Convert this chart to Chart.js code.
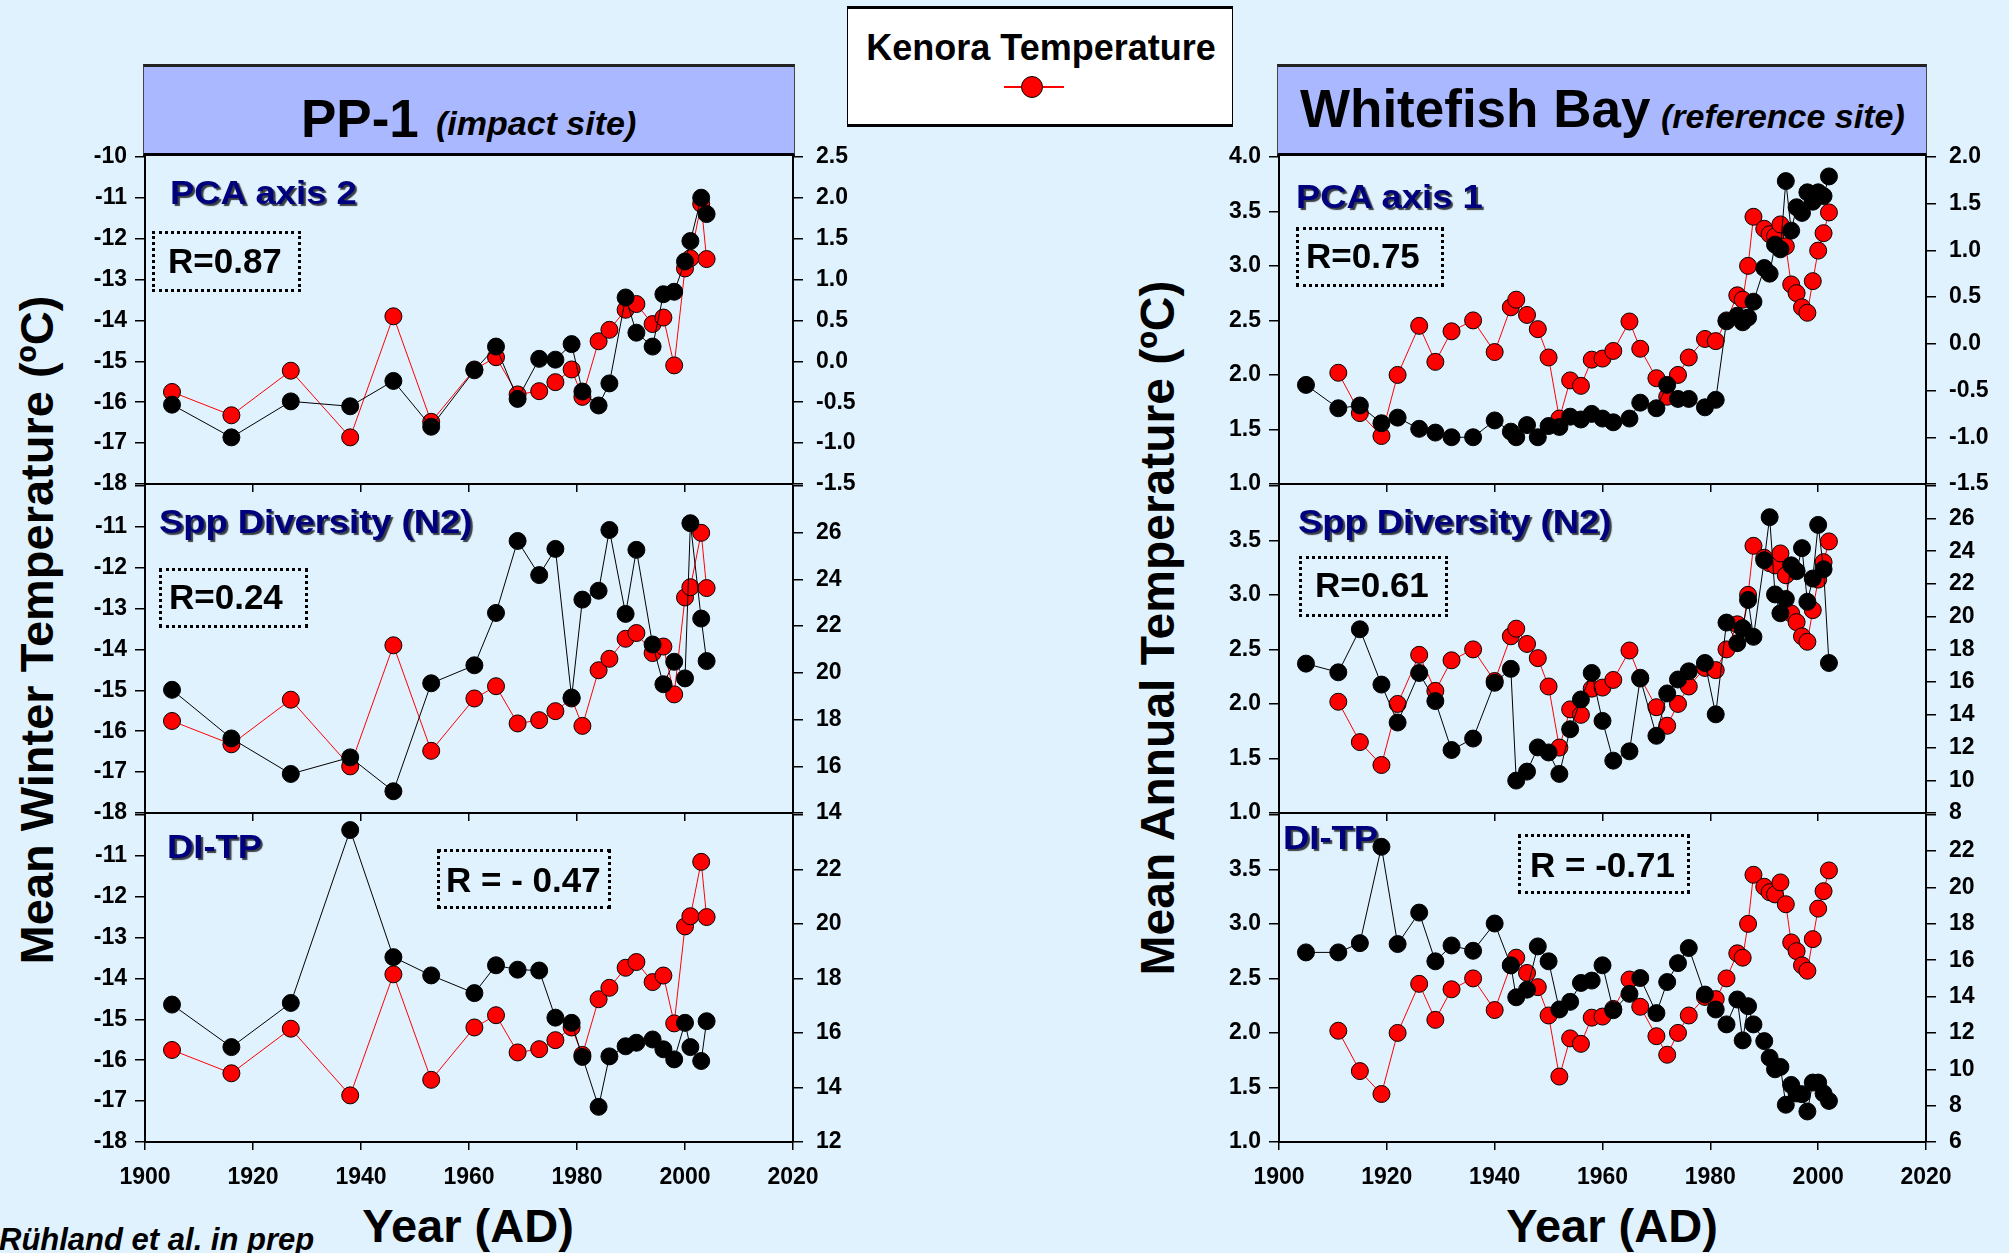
<!DOCTYPE html>
<html>
<head>
<meta charset="utf-8">
<title>Kenora temperature vs. diatom proxies</title>
<script src="https://cdn.jsdelivr.net/npm/chart.js@4.4.1/dist/chart.umd.min.js"></script>
<style>
  html, body { margin: 0; padding: 0; background: #e0f2fe; }
  #page {
    position: relative; width: 2009px; height: 1253px; overflow: hidden;
    background: #e0f2fe; font-family: "Liberation Sans", Arial, sans-serif; color: #000;
  }
  .t { position: absolute; white-space: nowrap; line-height: 1; font-weight: bold; }
  .titlebox {
    position: absolute; box-sizing: border-box; background: #aab9ff;
    border-left: 1px solid #444; border-right: 1px solid #444;
    border-top: 3px solid #222; border-bottom: 3px solid #000;
  }
  .legendbox {
    position: absolute; box-sizing: border-box; background: #fff;
    border-left: 1.5px solid #000; border-right: 1.5px solid #000;
    border-top: 3px solid #000; border-bottom: 3px solid #000;
  }
  .rbox { position: absolute; box-sizing: border-box; border: 3px dotted #000; }
  .panel-label { color: #00007f; text-shadow: 2px 2px 1px rgba(0,0,0,0.75); }
  canvas { position: absolute; }
</style>
</head>
<body>
<div id="page"></div>
<script>
// ---------- PP-1 (impact site): Kenora winter temperature and proxies ----------
const ppYears = [1905, 1916, 1927, 1938, 1946, 1953, 1961, 1965, 1969, 1973, 1976, 1979,
                 1981, 1984, 1986, 1989, 1991, 1994, 1996, 1998, 2000, 2001, 2003, 2004];
const winterTemp = [-15.75, -16.32, -15.23, -16.86, -13.90, -16.48, -15.20, -14.90, -15.81, -15.73, -15.51, -15.20,
                    -15.87, -14.51, -14.23, -13.74, -13.60, -14.09, -13.93, -15.10, -12.73, -12.48, -11.15, -12.50];
const ppPca2 = [-0.53, -0.93, -0.49, -0.55, -0.24, -0.80, -0.11, 0.18, -0.46, 0.03, 0.02, 0.21,
                -0.37, -0.54, -0.27, 0.78, 0.35, 0.18, 0.82, 0.85, 1.22, 1.47, 2.00, 1.80];
const ppN2 = [19.27, 17.19, 15.67, 16.38, 14.93, 19.55, 20.32, 22.56, 25.64, 24.18, 25.30, 18.94,
              23.13, 23.51, 26.11, 22.52, 25.26, 21.21, 19.51, 20.47, 19.76, 26.40, 22.32, 20.50];
const ppDiTp = [17.04, 15.48, 17.10, 23.44, 18.78, 18.11, 17.46, 18.48, 18.32, 18.29, 16.56, 16.37,
                15.12, 13.29, 15.14, 15.51, 15.64, 15.76, 15.40, 15.03, 16.37, 15.48, 14.97, 16.43];

// ---------- Whitefish Bay (reference site): Kenora annual temperature and proxies ----------
const wbTempYears = [1911, 1915, 1919, 1922, 1926, 1929, 1932, 1936, 1940, 1943, 1944, 1946,
                     1948, 1950, 1952, 1954, 1956, 1958, 1960, 1962, 1965, 1967, 1970, 1972,
                     1974, 1976, 1979, 1981, 1983, 1985, 1986, 1987, 1988, 1990, 1991, 1992,
                     1993, 1994, 1995, 1996, 1997, 1998, 1999, 2000, 2001, 2002];
const annualTemp = [2.02, 1.65, 1.44, 2.00, 2.45, 2.12, 2.40, 2.50, 2.21, 2.62, 2.69, 2.55,
                    2.42, 2.16, 1.60, 1.95, 1.90, 2.14, 2.15, 2.22, 2.49, 2.24, 1.97, 1.80,
                    2.00, 2.16, 2.33, 2.31, 2.50, 2.73, 2.69, 3.00, 3.45, 3.34, 3.29, 3.27,
                    3.38, 3.18, 2.83, 2.75, 2.62, 2.57, 2.86, 3.14, 3.30, 3.49];
const wbCoreYears = [1905, 1911, 1915, 1919, 1922, 1926, 1929, 1932, 1936, 1940, 1943, 1944,
                     1946, 1948, 1950, 1952, 1954, 1956, 1958, 1960, 1962, 1965, 1967, 1970,
                     1972, 1974, 1976, 1979, 1981, 1983, 1985, 1986, 1987, 1988, 1990, 1991,
                     1992, 1993, 1994, 1995, 1996, 1997, 1998, 1999, 2000, 2001, 2002];
const wbPca1 = [-0.44, -0.69, -0.66, -0.85, -0.79, -0.91, -0.95, -1.00, -1.00, -0.82, -0.94, -1.00,
                -0.87, -1.00, -0.88, -0.89, -0.78, -0.81, -0.75, -0.80, -0.84, -0.80, -0.63, -0.69,
                -0.44, -0.59, -0.59, -0.68, -0.60, 0.24, 0.30, 0.23, 0.28, 0.45, 0.81, 0.75,
                1.06, 1.01, 1.74, 1.21, 1.46, 1.40, 1.62, 1.52, 1.62, 1.58, 1.79];
const wbN2 = [17.13, 16.60, 19.23, 15.85, 13.53, 16.56, 14.84, 11.85, 12.55, 15.96, 16.81, 9.98,
              10.53, 12.01, 11.70, 10.39, 13.12, 14.94, 16.56, 13.63, 11.20, 11.77, 16.22, 12.72,
              15.31, 16.16, 16.66, 17.17, 14.03, 19.64, 18.38, 19.30, 21.02, 18.77, 23.45, 26.08,
              21.36, 20.21, 21.08, 23.14, 22.78, 24.19, 20.91, 22.33, 25.61, 22.90, 17.17];
const wbDiTp = [16.43, 16.43, 16.94, 22.24, 16.89, 18.62, 15.94, 16.81, 16.52, 18.02, 15.72, 13.96,
                14.38, 16.76, 15.94, 13.29, 13.71, 14.75, 14.88, 15.72, 13.25, 14.15, 15.02, 13.09,
                14.80, 15.84, 16.67, 14.11, 13.29, 12.47, 13.84, 11.59, 13.47, 12.47, 11.55, 10.64,
                10.00, 10.13, 8.05, 9.14, 8.67, 8.63, 7.68, 9.27, 9.27, 8.67, 8.26];

// ---------- tick values ----------
const yearTicks = [1900, 1920, 1940, 1960, 1980, 2000, 2020];
const winterTicks = [-18, -17, -16, -15, -14, -13, -12, -11, -10];
const annualTicks = [1.0, 1.5, 2.0, 2.5, 3.0, 3.5, 4.0];
const ppPca2Ticks = [-1.5, -1.0, -0.5, 0.0, 0.5, 1.0, 1.5, 2.0, 2.5];
const ppN2Ticks = [14, 16, 18, 20, 22, 24, 26, 28];
const ppDiTpTicks = [12, 14, 16, 18, 20, 22, 24];
const wbPca1Ticks = [-1.5, -1.0, -0.5, 0.0, 0.5, 1.0, 1.5, 2.0];
const wbN2Ticks = [8, 10, 12, 14, 16, 18, 20, 22, 24, 26, 28];
const wbDiTpTicks = [6, 8, 10, 12, 14, 16, 18, 20, 22, 24];

const page = document.getElementById('page');
const FONT = "'Liberation Sans', Arial, sans-serif";
const ASC = 0.8465; // baseline offset inside a line-height:1 box

function addText(str, x, baseline, size, extra) {
  const d = document.createElement('div');
  d.className = 't' + (extra && extra.cls ? ' ' + extra.cls : '');
  d.textContent = str;
  d.style.fontSize = size + 'px';
  d.style.left = x + 'px';
  d.style.top = (baseline - ASC * size) + 'px';
  if (extra && extra.italic) d.style.fontStyle = 'italic';
  if (extra && extra.center) d.style.transform = 'translateX(-50%)';
  if (extra && extra.stretch) {
    d.style.transformOrigin = '0 0';
    d.style.transform = 'scaleX(' + extra.stretch + ')';
  }
  page.appendChild(d);
  return d;
}
function addBox(cls, l, t, r, b) {
  const d = document.createElement('div');
  d.className = cls;
  Object.assign(d.style, { left: l + 'px', top: t + 'px', width: (r - l) + 'px', height: (b - t) + 'px' });
  page.appendChild(d);
  return d;
}
function addVerticalTitle(str, cx, cy, size) {
  const d = document.createElement('div');
  d.className = 't';
  d.textContent = str;
  d.style.fontSize = size + 'px';
  d.style.left = cx + 'px';
  d.style.top = cy + 'px';
  d.style.transform = 'translate(-50%, -50%) rotate(-90deg)';
  page.appendChild(d);
}

// ---------- frames, titles and legend ----------
addBox('titlebox', 143, 64, 795, 156);
addBox('titlebox', 1277, 64, 1927, 156);
addText('PP-1', 301, 137, 53);
addText('(impact site)', 436, 135, 34, { italic: true });
addText('Whitefish Bay', 1300, 127, 53);
addText('(reference site)', 1661, 128, 34, { italic: true });

addBox('legendbox', 847, 6, 1233, 127);
addText('Kenora Temperature', 1041, 60, 36, { center: true });
(function legendSymbol() {
  const line = document.createElement('div');
  Object.assign(line.style, { position: 'absolute', left: '1004px', top: '86px', width: '60px', height: '2px', background: '#ff0000' });
  page.appendChild(line);
  const dot = document.createElement('div');
  Object.assign(dot.style, { position: 'absolute', left: '1021px', top: '76px', width: '20px', height: '20px',
    borderRadius: '50%', background: '#ff0000', border: '1px solid #000' });
  page.appendChild(dot);
})();

addVerticalTitle('Mean Winter Temperature (ºC)', 36, 630, 47);
addVerticalTitle('Mean Annual Temperature (ºC)', 1158, 628, 48);
addText('Year (AD)', 468, 1242, 47, { center: true });
addText('Year (AD)', 1612, 1242, 47, { center: true });
addText('Rühland et al. in prep', -1, 1250, 31, { italic: true });

// ---------- Chart.js panels ----------
const AXW = 90;   // width reserved for each y axis
const PADT = 25;  // room above the plot area for the top tick label
const XH = 70;    // height reserved for the x axis

function pts(xs, ys) { return xs.map((x, i) => ({ x: x, y: ys[i] })); }

function axisY(position, ticks, fmt, hideTop) {
  const lo = ticks[0], hi = ticks[ticks.length - 1];
  return {
    type: 'linear', position: position, min: lo, max: hi,
    afterBuildTicks: s => { s.ticks = ticks.map(v => ({ value: v })); },
    afterFit: s => { s.width = AXW; },
    ticks: {
      color: '#000', font: { family: FONT, size: 23, weight: 'bold' },
      padding: position === 'left' ? 8 : 13,
      callback: v => (hideTop && Math.abs(v - hi) < 1e-9) ? '' : fmt(v)
    },
    grid: { drawOnChartArea: false, drawTicks: true, tickLength: 10, color: '#000', lineWidth: 1.5 },
    border: { display: true, color: '#000', width: 2 }
  };
}
const fmtInt = v => String(Math.round(v));
const fmt1 = v => v.toFixed(1);

function panel(area, spec) {
  const W = (area.R - area.L) + AXW * 2;
  const H = (area.B - area.T) + PADT + XH;
  const cv = document.createElement('canvas');
  cv.width = W; cv.height = H;
  Object.assign(cv.style, { left: (area.L - AXW) + 'px', top: (area.T - PADT) + 'px', width: W + 'px', height: H + 'px' });
  page.appendChild(cv);

  new Chart(cv.getContext('2d'), {
    type: 'line',
    data: {
      datasets: [
        { label: spec.proxyName, data: pts(spec.proxyYears, spec.proxy), yAxisID: 'y1',
          borderColor: '#000', borderWidth: 1, tension: 0, fill: false,
          pointRadius: 8.5, pointBackgroundColor: '#000', pointBorderColor: '#000', pointBorderWidth: 1 },
        { label: 'Kenora Temperature', data: pts(spec.tempYears, spec.temp), yAxisID: 'y',
          borderColor: '#ff0000', borderWidth: 1, tension: 0, fill: false,
          pointRadius: 8.5, pointBackgroundColor: '#ff0000', pointBorderColor: '#000', pointBorderWidth: 1 }
      ]
    },
    options: {
      responsive: false, animation: false, devicePixelRatio: 1, events: [],
      layout: { padding: { top: PADT, left: 0, right: 0, bottom: 0 } },
      plugins: { legend: { display: false }, tooltip: { enabled: false } },
      scales: {
        x: {
          type: 'linear', min: 1900, max: 2020,
          afterBuildTicks: s => { s.ticks = yearTicks.map(v => ({ value: v })); },
          afterFit: s => { s.height = XH; },
          ticks: { display: spec.showYears, color: '#000', padding: 14,
                   font: { family: FONT, size: 23, weight: 'bold' }, callback: v => String(v) },
          grid: { drawOnChartArea: false, drawTicks: true, tickLength: 8, color: '#000', lineWidth: 1.5 },
          border: { display: true, color: '#000', width: 2 }
        },
        y: axisY('left', spec.tempTicks, spec.tempFmt, spec.hideTop),
        y1: axisY('right', spec.proxyTicks, spec.proxyFmt, spec.hideTop)
      }
    }
  });
}

const LEFT = { L: 145, R: 793 }, RIGHT = { L: 1279, R: 1926 };
const ROWS = [{ T: 155, B: 484 }, { T: 484, B: 813 }, { T: 813, B: 1142 }];

const ppSpecs = [
  { proxyName: 'PCA axis 2', proxy: ppPca2, proxyTicks: ppPca2Ticks, proxyFmt: fmt1 },
  { proxyName: 'Spp Diversity (N2)', proxy: ppN2, proxyTicks: ppN2Ticks, proxyFmt: fmtInt },
  { proxyName: 'DI-TP', proxy: ppDiTp, proxyTicks: ppDiTpTicks, proxyFmt: fmtInt }
];
const wbSpecs = [
  { proxyName: 'PCA axis 1', proxy: wbPca1, proxyTicks: wbPca1Ticks, proxyFmt: fmt1 },
  { proxyName: 'Spp Diversity (N2)', proxy: wbN2, proxyTicks: wbN2Ticks, proxyFmt: fmtInt },
  { proxyName: 'DI-TP', proxy: wbDiTp, proxyTicks: wbDiTpTicks, proxyFmt: fmtInt }
];

ROWS.forEach((row, i) => {
  panel({ L: LEFT.L, R: LEFT.R, T: row.T, B: row.B }, Object.assign({
    proxyYears: ppYears, tempYears: ppYears, temp: winterTemp,
    tempTicks: winterTicks, tempFmt: fmtInt, hideTop: i > 0, showYears: i === 2
  }, ppSpecs[i]));
  panel({ L: RIGHT.L, R: RIGHT.R, T: row.T, B: row.B }, Object.assign({
    proxyYears: wbCoreYears, tempYears: wbTempYears, temp: annualTemp,
    tempTicks: annualTicks, tempFmt: fmt1, hideTop: i > 0, showYears: i === 2
  }, wbSpecs[i]));
});

// ---------- panel names and correlation boxes ----------
const panelNames = [
  ['PCA axis 2', 170, 203.5], ['Spp Diversity (N2)', 159, 533], ['DI-TP', 167, 858],
  ['PCA axis 1', 1296, 208], ['Spp Diversity (N2)', 1298, 533], ['DI-TP', 1283, 849]
];
panelNames.forEach(([s, x, b]) => addText(s, x, b, 34, { cls: 'panel-label', stretch: 1.07 }));

const corrBoxes = [
  ['R=0.87', [152, 231, 301, 292], 168, 273, 35],
  ['R=0.24', [159, 568, 308, 628], 169, 609, 35],
  ['R = - 0.47', [437, 849, 611, 909], 446, 892, 35],
  ['R=0.75', [1296, 227, 1444, 287], 1306, 267.5, 35],
  ['R=0.61', [1299, 556, 1448, 617], 1315, 597, 35],
  ['R = -0.71', [1518, 834, 1690, 894], 1530, 877, 35]
];
corrBoxes.forEach(([s, b, x, base, size]) => {
  addBox('rbox', b[0], b[1], b[2], b[3]);
  addText(s, x, base, size);
});
</script>
</body>
</html>
